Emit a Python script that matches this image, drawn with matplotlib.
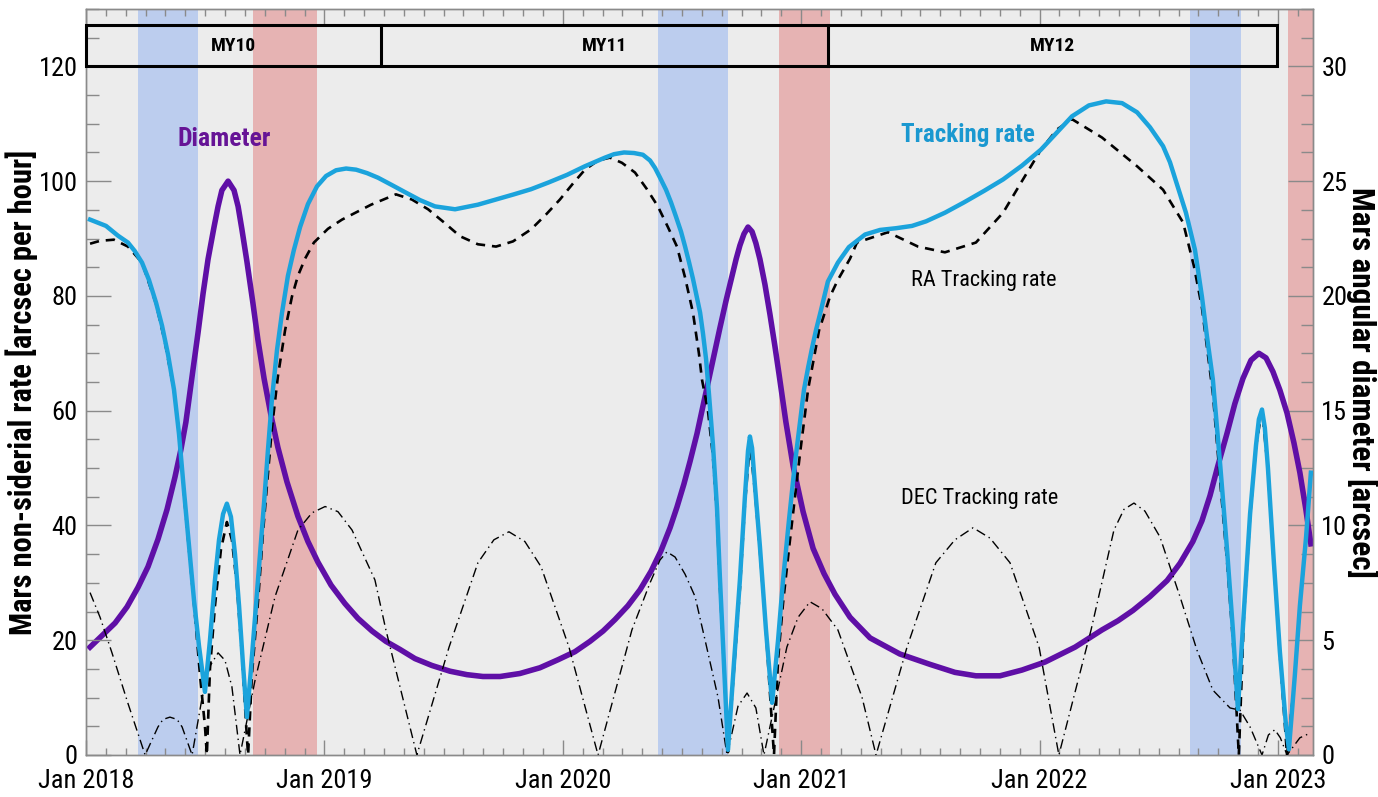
import matplotlib
matplotlib.use("Agg")
import matplotlib.pyplot as plt
from matplotlib import font_manager
from matplotlib.patches import Rectangle
from matplotlib.ticker import MultipleLocator

# ── Font: first condensed face that is installed ─────────────────────────────
_names = {f.name for f in font_manager.fontManager.ttflist}
FONT = next((n for n in ("Roboto Condensed", "PT Sans Narrow", "Fira Sans Condensed",
                         "Barlow Condensed") if n in _names), "DejaVu Sans")
plt.rcParams["font.family"] = [FONT, "DejaVu Sans"]

# ── Colours ──────────────────────────────────────────────────────────────────
BG        = "#ececec"
BAND_BLUE = "#bccdee"
BAND_RED  = "#e6b3b3"
CYAN      = "#1ba3dc"
CYAN_TXT  = "#1a98d0"
PURPLE    = "#5f0fa6"
PURPLE_TX = "#661496"
AXIS_GRAY = "#8a8a8a"

# ── Data (x in decimal years) ────────────────────────────────────────────────
# total non-sidereal tracking rate [arcsec/h]
RATE_T = [2018.017, 2018.084, 2018.134, 2018.176, 2018.205, 2018.235, 2018.264, 2018.294,
          2018.319, 2018.344, 2018.369, 2018.390, 2018.411, 2018.432, 2018.453, 2018.474,
          2018.491, 2018.499, 2018.520, 2018.541, 2018.558, 2018.575, 2018.591, 2018.608,
          2018.625, 2018.642, 2018.659, 2018.675, 2018.692, 2018.713, 2018.730, 2018.747,
          2018.763, 2018.780, 2018.801, 2018.822, 2018.847, 2018.872, 2018.898, 2018.931,
          2018.969, 2019.007, 2019.049, 2019.091, 2019.133, 2019.179, 2019.225, 2019.284,
          2019.342, 2019.401, 2019.464, 2019.548, 2019.644, 2019.720, 2019.795, 2019.867,
          2019.942, 2020.018, 2020.093, 2020.177, 2020.215, 2020.257, 2020.299, 2020.336,
          2020.366, 2020.387, 2020.408, 2020.433, 2020.454, 2020.475, 2020.496, 2020.513,
          2020.530, 2020.546, 2020.563, 2020.576, 2020.588, 2020.601, 2020.613, 2020.630,
          2020.647, 2020.659, 2020.676, 2020.693, 2020.718, 2020.743, 2020.764, 2020.777,
          2020.785, 2020.794, 2020.806, 2020.827, 2020.852, 2020.878, 2020.903, 2020.924,
          2020.949, 2020.974, 2020.995, 2021.012, 2021.029, 2021.045, 2021.062, 2021.083,
          2021.112, 2021.154, 2021.200, 2021.268, 2021.331, 2021.398, 2021.465, 2021.524,
          2021.603, 2021.683, 2021.767, 2021.847, 2021.926, 2022.006, 2022.073, 2022.136,
          2022.207, 2022.279, 2022.346, 2022.409, 2022.463, 2022.518, 2022.547, 2022.572,
          2022.593, 2022.614, 2022.652, 2022.681, 2022.702, 2022.727, 2022.757, 2022.786,
          2022.811, 2022.832, 2022.857, 2022.883, 2022.908, 2022.920, 2022.933, 2022.945,
          2022.958, 2022.983, 2023.008, 2023.034, 2023.046, 2023.071, 2023.092, 2023.118,
          2023.138]
RATE_V = [93.3, 92.2, 90.5, 89.3, 87.8, 85.8, 82.8, 78.8,
          74.8, 69.8, 63.7, 56.0, 46.0, 36.5, 27.0, 19.0,
          13.5, 11.0, 20.0, 30.5, 37.5, 42.0, 43.8, 41.5,
          35.0, 26.0, 15.5, 6.6, 15.0, 26.0, 35.0, 44.0,
          53.0, 62.0, 70.5, 77.0, 83.5, 88.0, 92.0, 96.0,
          99.1, 100.9, 101.9, 102.2, 102.0, 101.4, 100.6, 99.3,
          98.0, 96.7, 95.6, 95.1, 95.9, 96.8, 97.7, 98.6,
          99.8, 101.1, 102.6, 104.1, 104.7, 105.0, 104.9, 104.6,
          103.6, 102.3, 100.6, 98.5, 96.3, 93.8, 91.2, 88.6,
          85.8, 83.0, 79.7, 77.1, 73.5, 69.0, 63.0, 54.0,
          43.0, 31.0, 16.0, 0.9, 16.0, 30.5, 45.0, 53.0,
          55.5, 53.5, 47.0, 36.3, 22.0, 9.1, 20.0, 30.5,
          41.0, 50.9, 58.0, 63.7, 67.5, 70.8, 74.0, 77.5,
          82.5, 85.8, 88.5, 90.7, 91.5, 91.8, 92.2, 93.0,
          94.5, 96.3, 98.3, 100.3, 102.7, 105.5, 108.5, 111.3,
          113.2, 113.9, 113.6, 112.0, 109.4, 106.1, 103.3, 100.0,
          97.2, 94.5, 88.0, 79.9, 73.0, 65.4, 50.9, 36.0,
          21.8, 8.0, 25.0, 42.0, 54.0, 58.5, 60.2, 57.0,
          50.0, 33.5, 18.0, 5.0, 1.0, 14.0, 26.0, 38.0,
          49.2]

# |RA| tracking rate [arcsec/h]
RA_T = [2018.017, 2018.059, 2018.117, 2018.176, 2018.235, 2018.294, 2018.331, 2018.369,
        2018.394, 2018.415, 2018.436, 2018.457, 2018.478, 2018.499, 2018.507, 2018.520,
        2018.541, 2018.566, 2018.591, 2018.612, 2018.633, 2018.654, 2018.675, 2018.680,
        2018.696, 2018.722, 2018.742, 2018.759, 2018.780, 2018.805, 2018.835, 2018.864,
        2018.889, 2018.919, 2018.956, 2019.015, 2019.074, 2019.196, 2019.300, 2019.367,
        2019.435, 2019.502, 2019.569, 2019.644, 2019.720, 2019.791, 2019.867, 2019.930,
        2019.988, 2020.043, 2020.093, 2020.148, 2020.198, 2020.248, 2020.303, 2020.353,
        2020.399, 2020.441, 2020.479, 2020.513, 2020.546, 2020.571, 2020.584, 2020.609,
        2020.630, 2020.647, 2020.659, 2020.676, 2020.693, 2020.718, 2020.743, 2020.764,
        2020.785, 2020.806, 2020.827, 2020.852, 2020.878, 2020.886, 2020.903, 2020.924,
        2020.949, 2020.974, 2020.995, 2021.029, 2021.075, 2021.121, 2021.154, 2021.205,
        2021.234, 2021.364, 2021.490, 2021.603, 2021.733, 2021.847, 2021.926, 2022.006,
        2022.073, 2022.136, 2022.262, 2022.409, 2022.518, 2022.602, 2022.648, 2022.681,
        2022.727, 2022.757, 2022.786, 2022.811, 2022.832, 2022.836, 2022.857, 2022.883,
        2022.908, 2022.933, 2022.958, 2022.983, 2023.008, 2023.038, 2023.071, 2023.092,
        2023.118, 2023.138]
RA_V = [89.1, 89.6, 89.8, 88.6, 85.8, 78.6, 72.0, 63.5,
        54.7, 43.5, 34.0, 24.5, 14.0, 5.0, 0.0, 15.0,
        26.0, 35.8, 40.6, 37.5, 29.5, 17.5, 3.0, 0.0,
        14.0, 27.0, 38.5, 47.0, 57.0, 66.0, 74.0, 79.9,
        83.5, 86.5, 89.3, 91.7, 93.3, 95.9, 97.7, 96.8,
        95.1, 92.8, 90.4, 89.0, 88.6, 89.5, 91.6, 94.2,
        96.8, 99.6, 102.0, 103.6, 104.1, 103.2, 101.5, 98.6,
        95.6, 92.0, 88.6, 83.2, 77.1, 70.0, 65.4, 60.0,
        52.0, 41.5, 29.5, 15.5, 0.5, 14.8, 29.0, 43.7,
        54.4, 46.0, 35.5, 21.8, 5.0, 0.0, 16.7, 26.5,
        36.0, 45.0, 52.5, 63.7, 74.0, 79.9, 82.8, 86.5,
        89.3, 91.1, 88.6, 87.6, 89.3, 94.5, 100.0, 105.5,
        109.0, 110.8, 107.6, 102.6, 98.5, 92.8, 85.1, 78.0,
        63.0, 48.0, 34.0, 20.0, 3.0, 0.0, 24.0, 41.5,
        53.8, 60.2, 49.8, 33.2, 17.5, 0.0, 13.6, 25.8,
        37.8, 49.0]

# |DEC| tracking rate [arcsec/h]
DEC_T = [2018.017, 2018.059, 2018.109, 2018.176, 2018.248, 2018.302, 2018.323, 2018.352,
         2018.382, 2018.403, 2018.445, 2018.487, 2018.520, 2018.554, 2018.583, 2018.612,
         2018.646, 2018.709, 2018.793, 2018.889, 2018.948, 2019.003, 2019.057, 2019.116,
         2019.212, 2019.258, 2019.388, 2019.523, 2019.644, 2019.711, 2019.774, 2019.841,
         2019.909, 2020.026, 2020.148, 2020.290, 2020.366, 2020.408, 2020.437, 2020.471,
         2020.513, 2020.555, 2020.597, 2020.651, 2020.689, 2020.735, 2020.773, 2020.810,
         2020.844, 2020.940, 2020.987, 2021.037, 2021.087, 2021.154, 2021.255, 2021.314,
         2021.444, 2021.565, 2021.645, 2021.721, 2021.792, 2021.876, 2021.998, 2022.081,
         2022.216, 2022.312, 2022.354, 2022.396, 2022.442, 2022.505, 2022.589, 2022.660,
         2022.727, 2022.799, 2022.841, 2022.883, 2022.933, 2022.960, 2022.987, 2023.010,
         2023.038, 2023.092, 2023.134]
DEC_V = [28.3, 24.0, 17.8, 9.0, 0.0, 4.9, 6.2, 6.6,
         6.2, 4.9, 0.0, 10.0, 15.5, 17.8, 16.5, 11.9,
         0.0, 13.0, 27.6, 39.2, 42.2, 43.3, 42.4, 39.2,
         30.5, 21.8, 0.0, 18.8, 33.5, 37.5, 38.9, 37.2,
         32.8, 18.8, 0.0, 21.8, 30.0, 34.0, 35.4, 34.5,
         31.5, 27.6, 20.0, 10.1, 0.0, 8.5, 10.8, 8.2,
         0.0, 18.8, 24.0, 26.7, 25.5, 21.8, 10.1, 0.0,
         18.8, 33.5, 37.5, 39.6, 37.8, 33.5, 18.8, 0.0,
         21.8, 39.2, 42.8, 43.9, 42.5, 38.0, 27.6, 18.3,
         11.3, 8.2, 7.8, 4.9, 0.0, 3.5, 4.4, 3.0,
         0.0, 3.0, 3.8]

# Mars angular diameter [arcsec]
DIAM_T = [2018.017, 2018.067, 2018.122, 2018.172, 2018.218, 2018.260, 2018.302, 2018.340,
          2018.373, 2018.398, 2018.419, 2018.445, 2018.470, 2018.491, 2018.512, 2018.537,
          2018.554, 2018.570, 2018.596, 2018.621, 2018.638, 2018.654, 2018.675, 2018.700,
          2018.721, 2018.747, 2018.776, 2018.805, 2018.843, 2018.889, 2018.931, 2018.973,
          2019.028, 2019.086, 2019.141, 2019.200, 2019.258, 2019.317, 2019.380, 2019.451,
          2019.527, 2019.598, 2019.665, 2019.737, 2019.820, 2019.904, 2019.980, 2020.051,
          2020.114, 2020.169, 2020.219, 2020.273, 2020.324, 2020.370, 2020.412, 2020.450,
          2020.479, 2020.508, 2020.534, 2020.563, 2020.588, 2020.609, 2020.634, 2020.659,
          2020.685, 2020.706, 2020.727, 2020.743, 2020.760, 2020.777, 2020.794, 2020.810,
          2020.827, 2020.848, 2020.869, 2020.890, 2020.907, 2020.936, 2020.966, 2021.008,
          2021.050, 2021.096, 2021.142, 2021.205, 2021.289, 2021.414, 2021.540, 2021.645,
          2021.733, 2021.834, 2021.926, 2022.023, 2022.149, 2022.262, 2022.329, 2022.392,
          2022.463, 2022.535, 2022.589, 2022.643, 2022.681, 2022.715, 2022.748, 2022.786,
          2022.819, 2022.853, 2022.887, 2022.920, 2022.950, 2022.979, 2023.008, 2023.038,
          2023.067, 2023.092, 2023.117, 2023.138]
DIAM_V = [4.7, 5.2, 5.75, 6.45, 7.3, 8.2, 9.4, 10.7,
          12.1, 13.3, 14.5, 16.5, 18.4, 20.1, 21.6, 23.0,
          23.9, 24.6, 25.0, 24.6, 23.9, 22.9, 21.5, 19.7,
          18.1, 16.4, 14.8, 13.4, 11.9, 10.4, 9.3, 8.4,
          7.4, 6.6, 5.95, 5.4, 4.95, 4.6, 4.2, 3.9,
          3.65, 3.5, 3.42, 3.42, 3.55, 3.8, 4.15, 4.5,
          4.95, 5.4, 5.9, 6.5, 7.2, 8.0, 8.9, 9.9,
          10.8, 11.8, 12.8, 14.0, 15.2, 16.2, 17.4, 18.6,
          19.8, 20.7, 21.6, 22.2, 22.7, 23.0, 22.8, 22.3,
          21.6, 20.5, 19.2, 17.8, 16.6, 14.5, 12.6, 10.6,
          9.0, 7.9, 7.0, 6.0, 5.1, 4.4, 3.95, 3.6,
          3.45, 3.45, 3.7, 4.05, 4.7, 5.45, 5.85, 6.3,
          6.9, 7.6, 8.35, 9.3, 10.2, 11.3, 12.6, 14.0,
          15.3, 16.4, 17.2, 17.5, 17.3, 16.7, 15.9, 14.9,
          13.6, 12.3, 10.7, 9.2]

# shaded periods
BLUE_BANDS = [(2018.218, 2018.470), (2020.399, 2020.693), (2022.631, 2022.845)]
RED_BANDS  = [(2018.700, 2018.969), (2020.907, 2021.121), (2023.042, 2023.200)]

# Mars years
MY_EDGES  = [2018.0, 2019.237, 2021.112, 2022.996]
MY_LABELS = ["MY10", "MY11", "MY12"]

YEARS = [2018, 2019, 2020, 2021, 2022, 2023]

# ── Figure / axes ────────────────────────────────────────────────────────────
W, H = 1378, 797
fig = plt.figure(figsize=(W / 100, H / 100), dpi=100)
fig.patch.set_facecolor("white")
ax = fig.add_axes([86 / W, 42 / H, (1313 - 86) / W, (755 - 9) / H])
ax2 = ax.twinx()

# diameter axis sits underneath, carries the grey background and the bands
ax2.set_zorder(1)
ax.set_zorder(2)
ax.patch.set_visible(False)
ax2.patch.set_visible(True)
ax2.patch.set_facecolor(BG)

XMIN, XMAX = 2018.0, 2023.147
ax.set_xlim(XMIN, XMAX)
ax.set_ylim(0, 130)
ax2.set_ylim(0, 32.5)

for a, b in BLUE_BANDS:
    ax2.axvspan(a, b, color=BAND_BLUE, lw=0, zorder=1)
for a, b in RED_BANDS:
    ax2.axvspan(a, b, color=BAND_RED, lw=0, zorder=1)

ax2.plot(DIAM_T, DIAM_V, color=PURPLE, lw=4.0, solid_joinstyle="round", zorder=3)

ax.plot(DEC_T, DEC_V, color="black", lw=1.0, dashes=(7, 3, 1, 3), zorder=2)
ax.plot(RA_T, RA_V, color="black", lw=1.9, dashes=(3.5, 2.6), zorder=3)
ax.plot(RATE_T, RATE_V, color=CYAN, lw=3.2, solid_joinstyle="round", zorder=4)

# Mars year strip
ax.add_patch(Rectangle((MY_EDGES[0], 120), MY_EDGES[-1] - MY_EDGES[0], 7.2,
                       fill=False, ec="black", lw=2.2, zorder=5, clip_on=False))
for x in MY_EDGES[1:-1]:
    ax.plot([x, x], [120, 127.2], color="black", lw=2.2, zorder=5)
for i, lbl in enumerate(MY_LABELS):
    ax.text((MY_EDGES[i] + MY_EDGES[i + 1]) / 2, 123.6, lbl, ha="center", va="center",
            fontsize=14, fontweight="bold", color="black", zorder=6)

# curve labels
ax.text(2018.581, 107.3, "Diameter", ha="center", va="center", fontsize=18.5,
        fontweight="bold", color=PURPLE_TX, zorder=6)
ax.text(2021.698, 108.0, "Tracking rate", ha="center", va="center", fontsize=18,
        fontweight="bold", color=CYAN_TXT, zorder=6)
ax.text(2021.765, 82.7, "RA Tracking rate", ha="center", va="center", fontsize=16,
        color="black", zorder=6)
ax.text(2021.750, 44.7, "DEC Tracking rate", ha="center", va="center", fontsize=16,
        color="black", zorder=6)

# ── Ticks ────────────────────────────────────────────────────────────────────
ax.set_xticks(YEARS)
ax.set_xticklabels([f"Jan {y}" for y in YEARS])
ax.xaxis.set_minor_locator(MultipleLocator(1 / 12))
ax.yaxis.set_major_locator(MultipleLocator(20))
ax.yaxis.set_minor_locator(MultipleLocator(5))
ax2.yaxis.set_major_locator(MultipleLocator(5))
ax2.yaxis.set_minor_locator(MultipleLocator(1.25))

ax.tick_params(axis="x", which="both", direction="in", top=True, bottom=True,
               color=AXIS_GRAY, width=1.0, labelsize=19, pad=10)
ax.tick_params(axis="x", which="major", length=11)
ax.tick_params(axis="x", which="minor", length=5)
ax.tick_params(axis="y", which="both", direction="in", left=True, right=False,
               color=AXIS_GRAY, width=1.0, labelsize=19, pad=6)
ax.tick_params(axis="y", which="major", length=18)
ax.tick_params(axis="y", which="minor", length=9)
ax2.tick_params(axis="y", which="both", direction="in", right=True, left=False,
                color=AXIS_GRAY, width=1.0, labelsize=19, pad=6)
ax2.tick_params(axis="y", which="major", length=18)
ax2.tick_params(axis="y", which="minor", length=9)

for a in (ax, ax2):
    for s in a.spines.values():
        s.set_color(AXIS_GRAY)
        s.set_linewidth(1.0)

# axis titles
fig.text(22 / W, 1 - 392 / H, "Mars non-siderial rate [arcsec per hour]", rotation=90,
         ha="center", va="center", fontsize=22, fontweight="bold")
fig.text(1362 / W, 1 - 382 / H, "Mars angular diameter [arcsec]", rotation=270,
         ha="center", va="center", fontsize=22.5, fontweight="bold")

fig.savefig("out.png", dpi=100, facecolor=fig.get_facecolor())
plt.close(fig)
